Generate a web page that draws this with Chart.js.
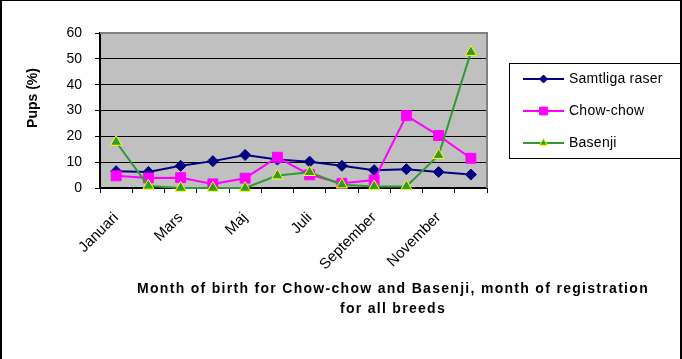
<!DOCTYPE html>
<html><head><meta charset="utf-8">
<script src="https://cdn.jsdelivr.net/npm/chart.js@4/dist/chart.umd.min.js"></script>
<style>html,body{margin:0;padding:0;background:#fff}#wrap{width:682px;height:359px;position:relative}</style>
</head><body><div id="wrap"><canvas id="c" width="682" height="359"></canvas></div>
<script>
const months = ['Januari','Februari','Mars','April','Maj','Juni','Juli','Augusti','September','Oktober','November','December'];
const samtliga = [6.5, 6.2, 8.6, 10.4, 12.8, 11.0, 10.2, 8.6, 6.9, 7.3, 6.2, 5.2];
const chowchow = [4.7, 3.9, 4.0, 1.6, 3.8, 11.9, 5.1, 1.8, 3.1, 28.0, 20.3, 11.5];
const basenji = [17.8, 0.8, 0, 0, 0, 4.8, 6.1, 1.3, 0.6, 0.6, 12.7, 52.6];
const yTicks = [0, 10, 20, 30, 40, 50, 60];
const seriesNames = ['Samtliga raser', 'Chow-chow', 'Basenji'];
const yTitle = 'Pups (%)';
const xTitle = ['Month of birth for Chow-chow and Basenji, month of registration', 'for all breeds'];

const FONT = '"Liberation Sans", Arial, sans-serif';

const decor = {
  id: 'decor',
  beforeDraw(chart) {
    const {ctx, chartArea: a} = chart;
    ctx.save();
    ctx.fillStyle = '#fff';
    ctx.fillRect(0, 0, chart.width, chart.height);
    ctx.fillStyle = '#C0C0C0';
    ctx.fillRect(a.left, a.top, a.right - a.left, a.bottom - a.top);
    ctx.restore();
  },
  beforeDatasetsDraw(chart) {
    const {ctx, chartArea: a} = chart;
    ctx.save();
    ctx.strokeStyle = '#808080';
    ctx.lineWidth = 2;
    ctx.beginPath();
    ctx.moveTo(a.left, a.top);
    ctx.lineTo(a.right, a.top);
    ctx.lineTo(a.right, a.bottom);
    ctx.stroke();
    ctx.restore();
  },
  afterDraw(chart) {
    const {ctx, chartArea: a} = chart;
    ctx.save();
    // axis titles
    ctx.fillStyle = '#000';
    ctx.font = 'bold 14px ' + FONT;
    ctx.textAlign = 'center';
    ctx.textBaseline = 'middle';
    ctx.save();
    ctx.translate(33, 98);
    ctx.rotate(-Math.PI / 2);
    ctx.fillText(yTitle, 0, 0);
    ctx.restore();
    ctx.letterSpacing = '1.3px';
    xTitle.forEach((t, i) => ctx.fillText(t, 393, 289 + i * 20));
    ctx.letterSpacing = '0px';
    // legend
    const lx = a.right + 22, ly = 63;
    ctx.strokeStyle = '#000';
    ctx.lineWidth = 1;
    ctx.strokeRect(lx + 0.5, ly + 0.5, 171, 95);
    chart.data.datasets.forEach((ds, i) => {
      const y = ly + 16 + i * 32;
      ctx.strokeStyle = ds.borderColor;
      ctx.lineWidth = 2;
      ctx.beginPath();
      ctx.moveTo(lx + 14, y);
      ctx.lineTo(lx + 55, y);
      ctx.stroke();
      ctx.fillStyle = ds.pointBackgroundColor;
      ctx.strokeStyle = ds.pointBorderColor;
      ctx.lineWidth = 1;
      Chart.helpers.drawPoint(ctx, {pointStyle: ds.pointStyle, radius: ds.legendRadius, rotation: 0, borderWidth: 1}, lx + 34.5, y);
      ctx.fillStyle = '#000';
      ctx.font = '14px ' + FONT;
      ctx.letterSpacing = '0.25px';
      ctx.textAlign = 'left';
      ctx.fillText(ds.label, lx + 60, y);
      ctx.letterSpacing = '0px';
    });
    // frame
    ctx.fillStyle = '#000';
    ctx.fillRect(0, 0, 2, chart.height);
    ctx.fillRect(0, 0, chart.width, 1);
    ctx.fillRect(chart.width - 2, 0, 2, chart.height);
    ctx.restore();
  }
};

new Chart(document.getElementById('c'), {
  type: 'line',
  data: {
    labels: months,
    datasets: [
      {label: seriesNames[0], data: samtliga, borderColor: '#000080', backgroundColor: '#000080',
       pointBackgroundColor: '#000080', pointBorderColor: '#000080', pointStyle: 'rectRot', pointRadius: 5.5,
       legendRadius: 4, borderWidth: 2, pointBorderWidth: 1, order: 3},
      {label: seriesNames[1], data: chowchow, borderColor: '#FF00FF', backgroundColor: '#FF00FF',
       pointBackgroundColor: '#FF00FF', pointBorderColor: '#FF00FF', pointStyle: 'rect', pointRadius: 7,
       legendRadius: 5.5, borderWidth: 2, pointBorderWidth: 1, order: 2},
      {label: seriesNames[2], data: basenji, borderColor: '#339933', backgroundColor: '#339933',
       pointBackgroundColor: '#339933', pointBorderColor: '#FFFF00', pointStyle: 'triangle', pointRadius: 6.5,
       legendRadius: 4.5, borderWidth: 2, pointBorderWidth: 1, order: 1}
    ]
  },
  options: {
    responsive: false,
    animation: false,
    devicePixelRatio: 1,
    layout: {padding: {left: 0, top: 33, right: 195, bottom: 0}},
    elements: {line: {tension: 0}},
    datasets: {line: {clip: false}},
    plugins: {legend: {display: false}, tooltip: {enabled: false}},
    scales: {
      x: {
        type: 'category',
        offset: true,
        grid: {offset: true, drawOnChartArea: false, drawTicks: true, tickLength: 5, color: '#000', lineWidth: 1},
        border: {display: true, color: '#000', width: 2},
        ticks: {autoSkip: false, maxRotation: 45, minRotation: 45, padding: 16, color: '#000',
                font: {family: FONT, size: 15},
                callback: (v, i) => (i % 2 === 0 ? months[i] : '')},
        afterFit: s => { s.height = 171; }
      },
      y: {
        min: yTicks[0], max: yTicks[yTicks.length - 1],
        afterBuildTicks: s => { s.ticks = yTicks.map(v => ({value: v})); },
        grid: {color: c => (c.tick && c.tick.value === 60 ? 'rgba(0,0,0,0)' : '#000'), tickColor: '#000',
               lineWidth: 1, tickLength: 5, drawTicks: true},
        border: {display: true, color: '#000', width: 2},
        ticks: {padding: 13, color: '#000', font: {family: FONT, size: 14}},
        afterFit: s => { s.width = 100; }
      }
    }
  },
  plugins: [decor]
});
</script>
</body></html>
